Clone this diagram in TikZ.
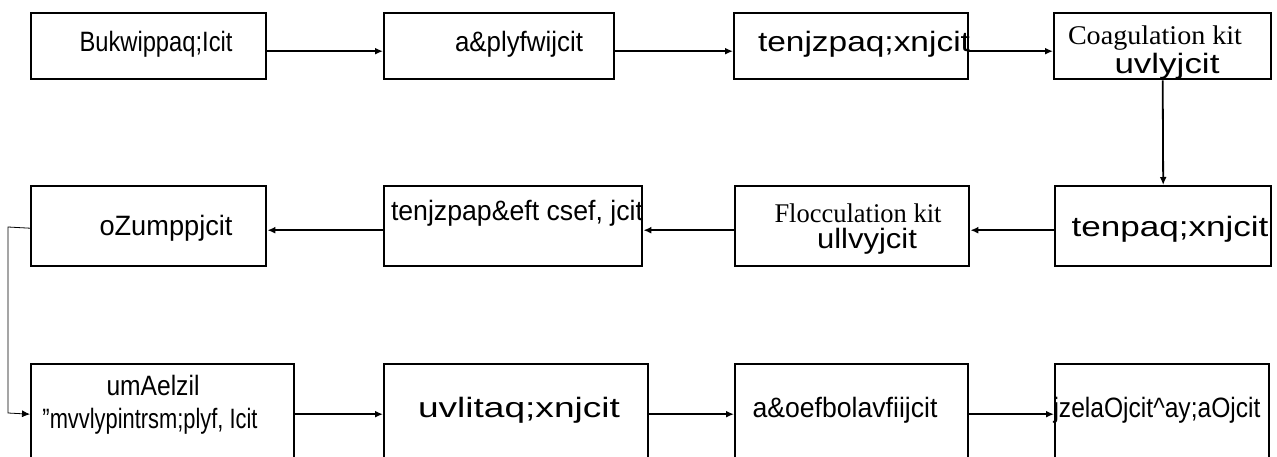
\documentclass[tikz,border=0pt]{standalone}
\usepackage{fontspec}
\setmainfont{Liberation Sans}
\newfontfamily\serif{Liberation Serif}
\usetikzlibrary{arrows.meta,calc}
\newsavebox\sqbox
\newcommand{\sq}[2]{\sbox\sqbox{#2}\scalebox{\fpeval{(#1)/(\the\wd\sqbox)}}[1]{\usebox\sqbox}}
\begin{document}
\begin{tikzpicture}[x=1pt,y=-1pt,
  box/.style={draw,line width=2.4pt,inner sep=0pt,anchor=north west},
  txt/.style={inner sep=0pt,font=\fontsize{28}{30}\selectfont},
  stxt/.style={inner sep=0pt,font=\serif\fontsize{27}{29}\selectfont},
  arr/.style={line width=1.8pt,-{Latex[length=8pt,width=7pt]}},
  thin/.style={line width=0.8pt,-{Latex[length=8pt,width=7pt]}}]
\clip (0,0) rectangle (1277,457);
\useasboundingbox (0,0) rectangle (1277,457);
% row 1
\node[box,minimum width=235pt,minimum height=66pt] (a1) at (30,12) {};
\node[box,minimum width=230pt,minimum height=66pt] (a2) at (383,12) {};
\node[box,minimum width=234pt,minimum height=66pt] (a3) at (733,12) {};
\node[box,minimum width=217pt,minimum height=66pt] (a4) at (1053,12) {};
% row 2
\node[box,minimum width=235pt,minimum height=80pt] (b1) at (30,185) {};
\node[box,minimum width=258pt,minimum height=80pt] (b2) at (383,185) {};
\node[box,minimum width=234pt,minimum height=80pt] (b3) at (734,185) {};
\node[box,minimum width=216pt,minimum height=80pt] (b4) at (1054,185) {};
% row 3
\node[box,minimum width=263pt,minimum height=100pt] (c1) at (30,363) {};
\node[box,minimum width=264pt,minimum height=100pt] (c2) at (383,363) {};
\node[box,minimum width=233pt,minimum height=100pt] (c3) at (734,363) {};
\node[box,minimum width=214pt,minimum height=100pt] (c4) at (1054,363) {};
% texts
\node[txt] (t1) at (156,44) {\sq{153pt}{Bukwippaq;Icit}};
\node[txt] (t2) at (519,44) {\sq{128pt}{a\&plyfwijcit}};
\node[txt] (t3) at (864,44) {\sq{212pt}{tenjzpaq;xnjcit}};
\node[stxt] (t4a) at (1155,38) {\sq{174pt}{Coagulation kit}};
\node[txt] (t4b) at (1167,66) {\sq{105pt}{uvlyjcit}};
\node[txt] (u1) at (166,228) {\sq{133pt}{oZumppjcit}};
\node[txt] (u2) at (517,213) {\sq{252pt}{tenjzpap\&eft csef, jcit}};
\node[stxt] (u3a) at (858,213) {\sq{167pt}{Flocculation kit}};
\node[txt] (u3b) at (867,241) {\sq{100pt}{ullvyjcit}};
\node[txt] (u4) at (1170,229) {\sq{197pt}{tenpaq;xnjcit}};
\node[txt] (v1a) at (153,385) {\sq{93pt}{umAelzil}};
\node[txt] (v1b) at (150,421) {\sq{215pt}{"mvvlypintrsm;plyf, Icit}};
\node[txt] (v2) at (519,410) {\sq{202pt}{uvlitaq;xnjcit}};
\node[txt] (v3) at (845,410) {\sq{185pt}{a\&oefbolavfiijcit}};
\node[txt] (v4) at (1157,410) {\sq{207pt}{jzelaOjcit\^{}ay;aOjcit}};
% arrows row 1
\draw[arr] ([yshift=-5pt]a1.east) -- ([yshift=-5pt]a2.west);
\draw[arr] ([yshift=-5pt]a2.east) -- ([yshift=-5pt]a3.west);
\draw[arr] ([yshift=-5pt]a3.east) -- ([yshift=-5pt]a4.west);
\draw[arr] (a4.south) -- (b4.north);
% arrows row 2
\draw[arr] ([yshift=-4pt]b4.west) -- ([yshift=-4pt]b3.east);
\draw[arr] ([yshift=-4pt]b3.west) -- ([yshift=-4pt]b2.east);
\draw[arr] ([yshift=-4pt]b2.west) -- ([yshift=-4pt]b1.east);
\coordinate (k1) at (8,227);
\coordinate (k2) at (8,413);
\draw[thin] ([yshift=-2pt]b1.west) -- (k1) -- (k2) -- (c1.west);
% arrows row 3
\draw[arr] (c1.east) -- (c2.west);
\draw[arr] (c2.east) -- (c3.west);
\draw[arr] (c3.east) -- (c4.west);
\end{tikzpicture}
\end{document}
